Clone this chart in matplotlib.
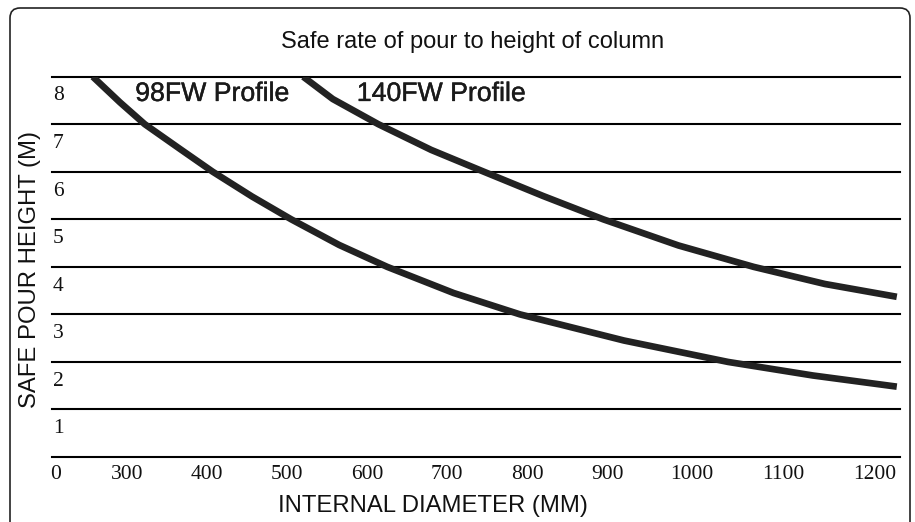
import matplotlib
matplotlib.use("Agg")
import matplotlib.pyplot as plt
import matplotlib.patheffects as pe
from matplotlib.patches import FancyBboxPatch
from matplotlib.transforms import IdentityTransform

# ---- data ----
title = "Safe rate of pour to height of column"
x_label = "INTERNAL DIAMETER (MM)"
y_label = "SAFE POUR HEIGHT (M)"

# diameters (mm) and safe pour heights (m)
fw98_d = [257, 291, 322, 366, 407, 456, 505, 565, 625, 708, 791, 921, 1051, 1157, 1262]
fw98_h = [8.0, 7.46, 7.0, 6.48, 6.0, 5.48, 5.0, 4.46, 4.0, 3.45, 3.0, 2.45, 2.0, 1.715, 1.48]

fw140_d = [520, 557, 614, 680, 746, 820, 895, 989, 1083, 1172, 1262]
fw140_h = [8.0, 7.53, 7.0, 6.46, 6.0, 5.49, 5.0, 4.45, 4.0, 3.64, 3.37]

series_names = ["98FW Profile", "140FW Profile"]

x_tick_labels = ["0", "300", "400", "500", "600", "700", "800", "900", "1000", "1100", "1200"]
x_tick_pos = [211, 300, 400, 500, 600, 700, 800, 900, 1006, 1120, 1235]
y_grid = [0, 1, 2, 3, 4, 5, 6, 7, 8]
y_tick_labels = ["1", "2", "3", "4", "5", "6", "7", "8"]

# ---- figure ----
W, H = 915, 522
fig = plt.figure(figsize=(W / 100, H / 100), dpi=100)
fig.patch.set_facecolor("white")

ax = fig.add_axes([52 / W, 65 / H, 848 / W, 380.3 / H])
ax.set_xlim(206, 1266)
ax.set_ylim(0, 8)
for s in ax.spines.values():
    s.set_visible(False)

for k in y_grid:
    ax.axhline(k, color="black", lw=1.5, clip_on=False, zorder=1)

line_col = "#222222"
ax.plot(fw98_d, fw98_h, color=line_col, lw=4.8, solid_capstyle="butt",
        solid_joinstyle="round", zorder=3)
ax.plot(fw140_d, fw140_h, color=line_col, lw=4.8, solid_capstyle="butt",
        solid_joinstyle="round", zorder=3)

serif = ["Liberation Serif", "DejaVu Serif"]
sans = ["Liberation Sans", "DejaVu Sans"]

ax.set_yticks([])
ax.set_xticks(x_tick_pos)
ax.set_xticklabels(x_tick_labels, family=serif, fontsize=15.5, color="#111111")
ax.tick_params(axis="x", length=0, pad=5.5)

for lab in y_tick_labels:
    v = int(lab)
    ax.text(0.001, v - 0.5, lab, transform=ax.get_yaxis_transform(),
            ha="left", va="baseline", family=serif, fontsize=15.5, color="#111111")

# series labels
bold_fx = [pe.withStroke(linewidth=0.3, foreground="#1a1a1a")]
ax.text(310, 7.49, series_names[0], ha="left", va="baseline",
        family=sans, fontsize=19.2, color="#1a1a1a", path_effects=bold_fx)
ax.text(587, 7.49, series_names[1], ha="left", va="baseline",
        family=sans, fontsize=19.2, color="#1a1a1a", path_effects=bold_fx)

# title and axis labels
fig.text(472.5 / W, (H - 48) / H, title, ha="center", va="baseline",
         family=sans, fontsize=17, color="#111111")
fig.text(433 / W, (H - 511.7) / H, x_label, ha="center", va="baseline",
         family=sans, fontsize=17.2, color="#111111")
fig.text(30 / W, (H - 270) / H, y_label, ha="center", va="center", rotation=90,
         family=sans, fontsize=17.2, color="#111111")

# rounded frame (bottom edge runs off the canvas)
frame = FancyBboxPatch((10, -40), 900, (H - 8) + 40,
                       boxstyle="round,pad=0,rounding_size=10",
                       transform=IdentityTransform(), fill=False,
                       lw=1.2, ec="#222222")
fig.add_artist(frame)

fig.savefig("out.png", dpi=100)
